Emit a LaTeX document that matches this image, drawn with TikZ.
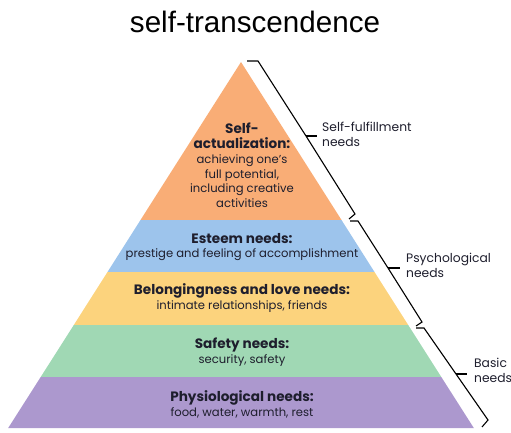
\documentclass[tikz,border=0pt]{standalone}
\usepackage{fontspec}
\setmainfont{Poppins}
\newfontfamily\headfont{Liberation Sans}
\usepackage{tikz}
\definecolor{actcol}{RGB}{249,173,118}
\definecolor{estcol}{RGB}{157,196,236}
\definecolor{belcol}{RGB}{252,211,125}
\definecolor{safcol}{RGB}{160,216,180}
\definecolor{phycol}{RGB}{172,152,206}
\definecolor{inkcol}{RGB}{30,30,45}
\newcommand{\lvlhead}[1]{{\fontsize{13.6}{14.8}\selectfont\bfseries #1}}

\begin{document}
\begin{tikzpicture}[x=1pt,y=-1pt]
\tikzstyle{every node}+=[inner sep=0pt]
\tikzstyle{lvltext}=[align=center,text=inkcol,font=\fontsize{11.6}{14.8}\selectfont]
\tikzstyle{sidetext}=[anchor=west,align=left,text=inkcol,font=\fontsize{12.3}{15}\selectfont]
\tikzstyle{bracket}=[black,line width=1.1pt,line join=miter]
\useasboundingbox (0,0) rectangle (511,433);
\fill [actcol] (241,62) -- (341.5,220) -- (140.5,220) -- cycle;
\fill [estcol] (140.5,220) -- (341.5,220) -- (374.5,272) -- (107.5,272) -- cycle;
\fill [belcol] (107.5,272) -- (374.5,272) -- (408.2,325) -- (73.8,325) -- cycle;
\fill [safcol] (73.8,325) -- (408.2,325) -- (441.3,377) -- (40.7,377) -- cycle;
\fill [phycol] (40.7,377) -- (441.3,377) -- (473.8,428) -- (8.2,428) -- cycle;
\node (title) at (255,22) {\headfont\fontsize{29.6}{34}\selectfont self-transcendence};
\node [lvltext] (act) at (242,165.5) {\lvlhead{Self-}\\\lvlhead{actualization:}\\achieving one’s\\full potential,\\including creative\\activities};
\node [lvltext] (est) at (242,247) {\lvlhead{Esteem needs:}\\prestige and feeling of accomplishment};
\node [lvltext] (bel) at (242,298) {\lvlhead{Belongingness and love needs:}\\intimate relationships, friends};
\node [lvltext] (saf) at (242,352.5) {\lvlhead{Safety needs:}\\security, safety};
\node [lvltext] (phy) at (242,404.5) {\lvlhead{Physiological needs:}\\food, water, warmth, rest};
\coordinate (b1a) at (247,61);
\coordinate (b1b) at (258,61);
\coordinate (b1m) at (306,136);
\coordinate (b1t) at (317,136);
\coordinate (b1c) at (355,214);
\coordinate (b1d) at (349,219);
\coordinate (b2a) at (350,221);
\coordinate (b2b) at (358,221);
\coordinate (b2m) at (388,268);
\coordinate (b2t) at (400,268);
\coordinate (b2c) at (422,322);
\coordinate (b2d) at (416,326);
\coordinate (b3a) at (416,328);
\coordinate (b3b) at (424,328);
\coordinate (b3m) at (456,374);
\coordinate (b3t) at (467,374);
\coordinate (b3c) at (488,420);
\coordinate (b3d) at (482,427);
\draw [bracket] (b1a) -- (b1b) -- (b1m) -- (b1c) -- (b1d);
\draw [bracket] (b1m) -- (b1t);
\draw [bracket] (b2a) -- (b2b) -- (b2m) -- (b2c) -- (b2d);
\draw [bracket] (b2m) -- (b2t);
\draw [bracket] (b3a) -- (b3b) -- (b3m) -- (b3c) -- (b3d);
\draw [bracket] (b3m) -- (b3t);
\node [sidetext] (fulfil) at (322,134.5) {Self-fulfillment\\needs};
\node [sidetext] (psych) at (406,265.5) {Psychological\\needs};
\node [sidetext] (basic) at (474,370.5) {Basic\\needs};
\end{tikzpicture}
\end{document}
